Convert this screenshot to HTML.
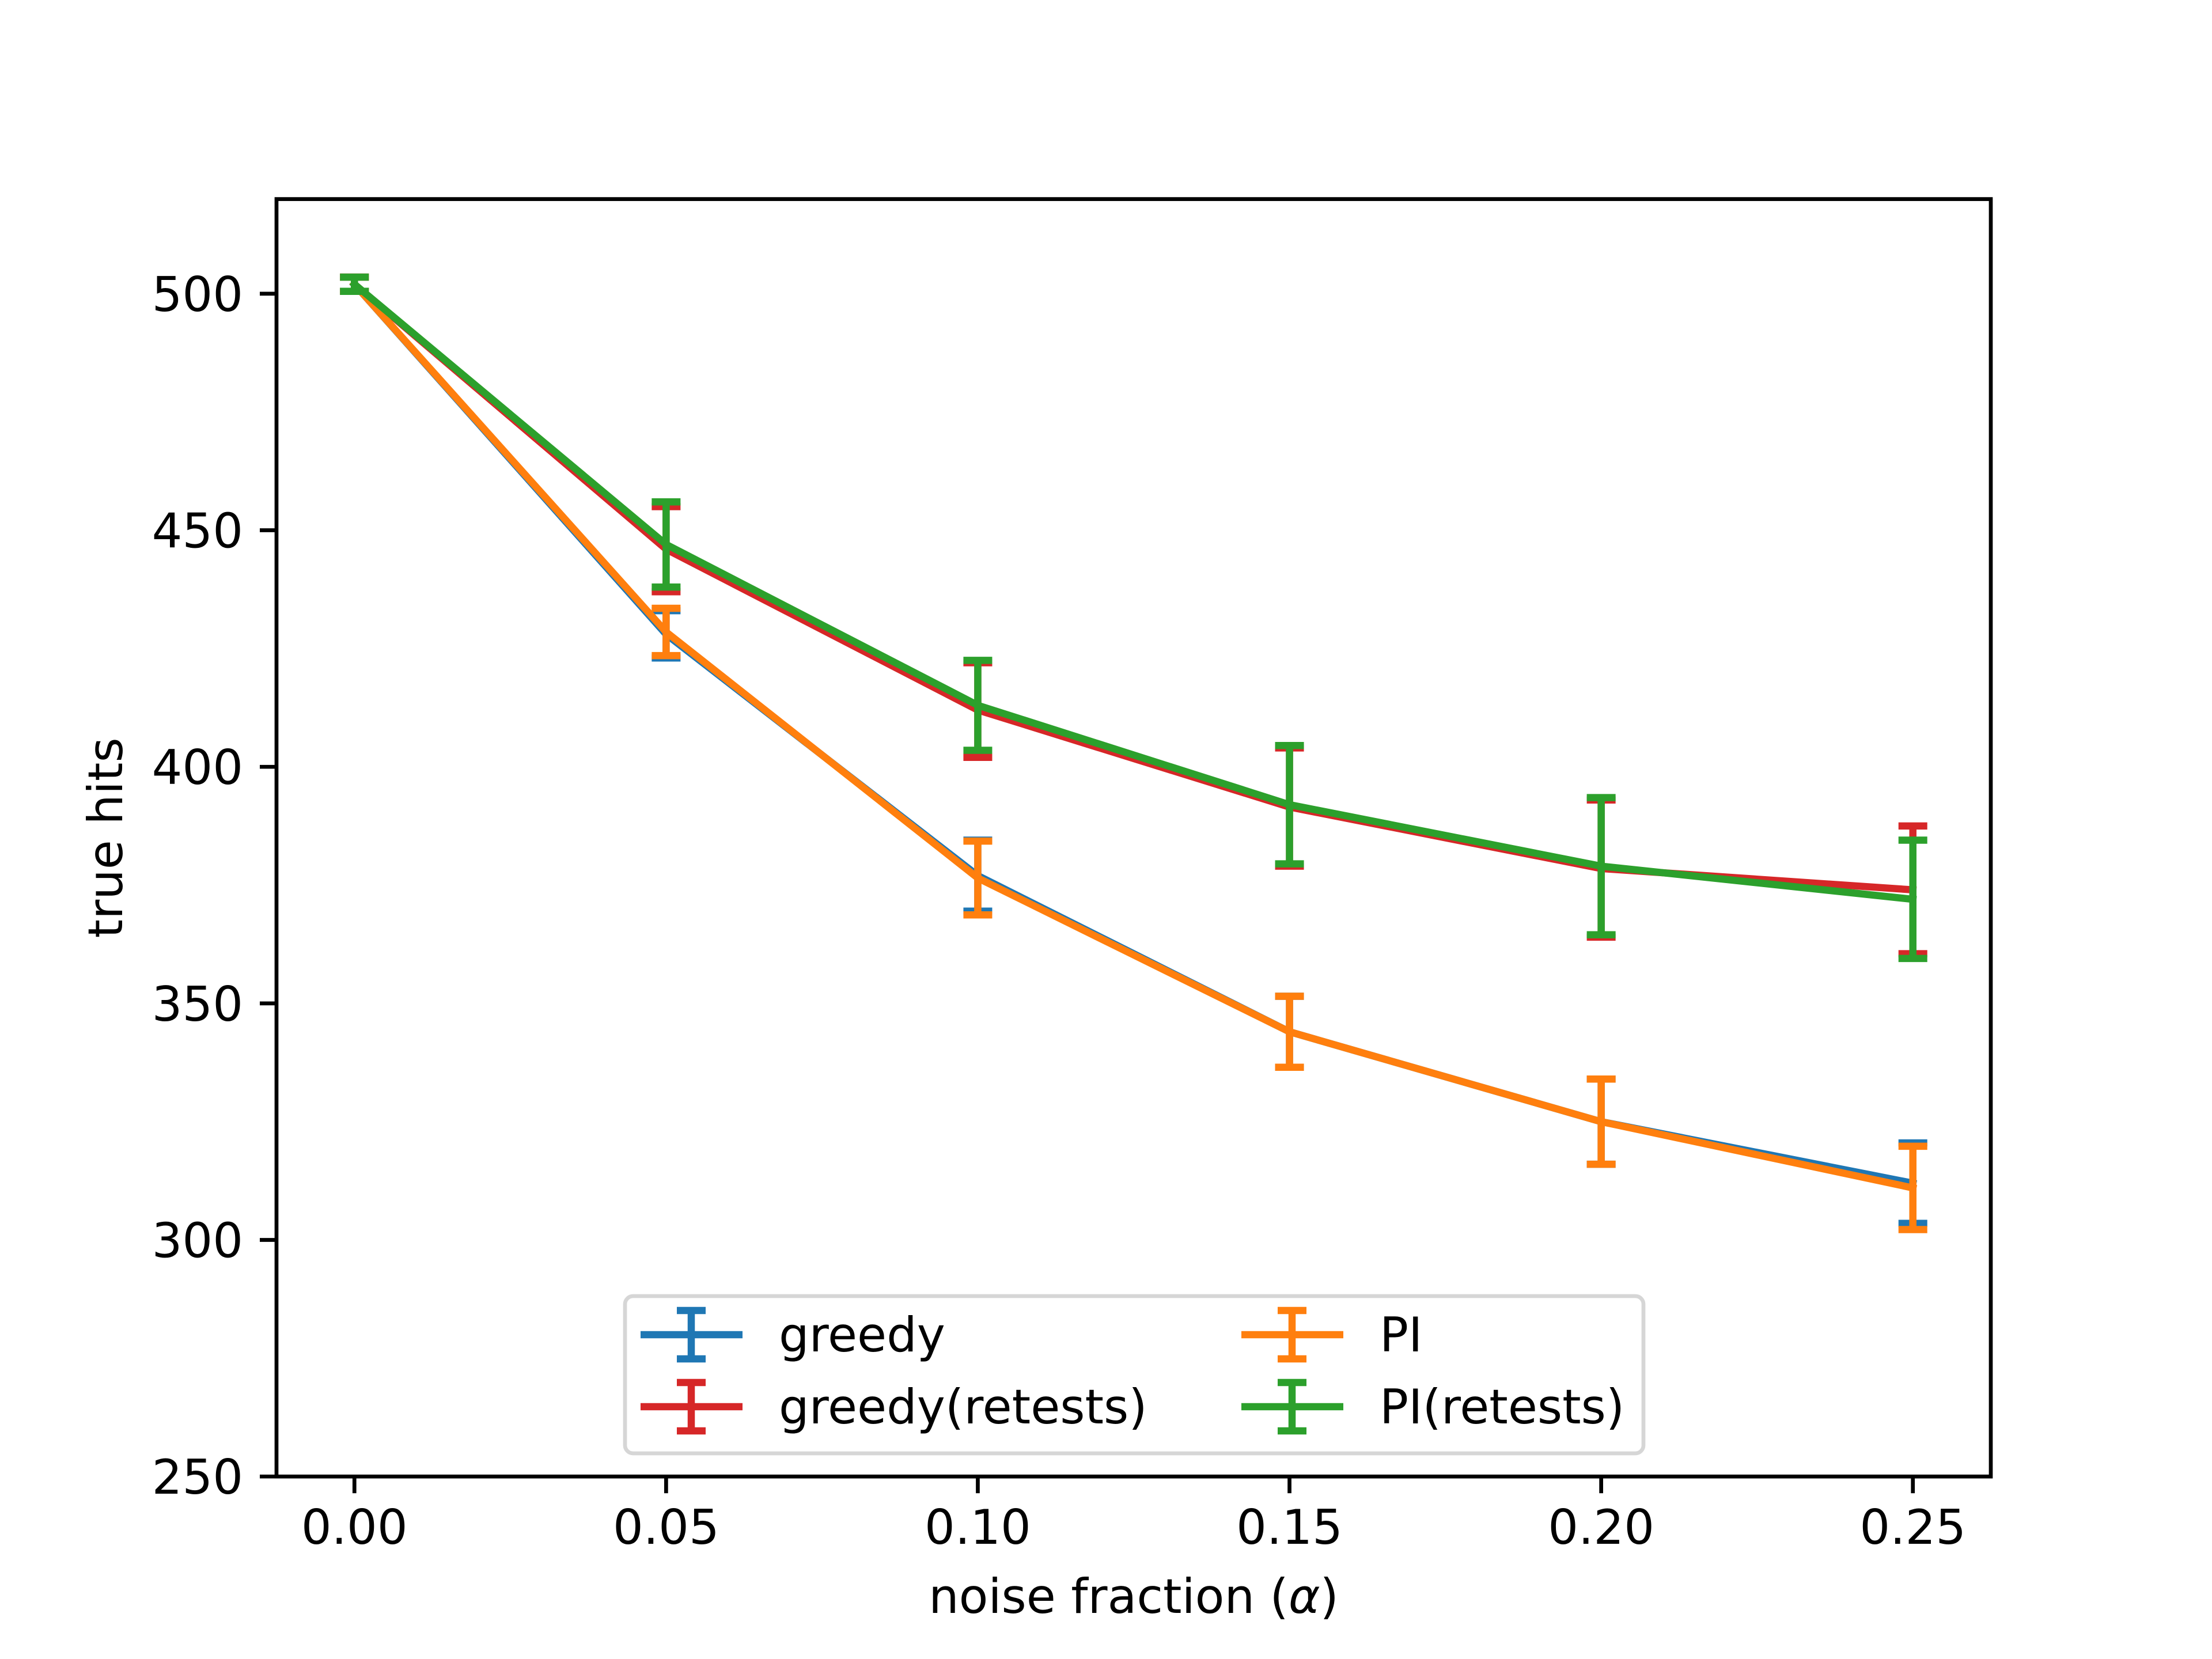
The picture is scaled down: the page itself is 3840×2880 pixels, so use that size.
<!DOCTYPE html>
<html><head><meta charset="utf-8"><style>
html,body{margin:0;padding:0;background:#fff}
svg{display:block}
text{font-family:"DejaVu Sans","Liberation Sans",sans-serif;fill:#000}
</style></head><body>
<svg id="chart" width="3840" height="2880" viewBox="0 0 3840 2880" xmlns="http://www.w3.org/2000/svg">
<rect width="3840" height="2880" fill="#fff"/>
<g id="plot"></g>
</svg>
<script>
const xValues=[0,0.05,0.10,0.15,0.20,0.25];
const greedy=[502,428,377,344,325,312];
const greedyErr=[1.5,5,7.5,7.5,9,8.5];
const greedyRetests=[502,446,412,391.5,378.5,374];
const greedyRetestsErr=[1.5,9,10,12.5,14.5,13.5];
const piVals=[502,428.5,376.5,344,325,311];
const piErr=[1.5,5,7.8,7.5,9,8.8];
const piRetests=[502,447,413,392,379,372];
const piRetestsErr=[1.5,9,9.5,12.5,14.5,12.5];
const xTicks=[0,0.05,0.10,0.15,0.20,0.25];
const xTickLabels=["0.00","0.05","0.10","0.15","0.20","0.25"];
const yTicks=[250,300,350,400,450,500];
const yTickLabels=["250","300","350","400","450","500"];

const L=480,R=3456,T=345.6,B=2563.2;
const xMin=-0.0125,xMax=0.2625,yMin=250,yMax=520;
const sx=v=>L+(v-xMin)/(xMax-xMin)*(R-L);
const sy=v=>B-(v-yMin)/(yMax-yMin)*(B-T);
const NS="http://www.w3.org/2000/svg";
const g=document.getElementById('plot');
function mk(tag,attrs,parent){const e=document.createElementNS(NS,tag);for(const k in attrs)e.setAttribute(k,attrs[k]);(parent||g).appendChild(e);return e;}
const LW=12.5, CAP=25;
function series(vals,errs,color,name){
  const grp=mk('g',{});
  
  
  const pts=vals.map((v,i)=>sx(xValues[i])+','+sy(v)).join(' ');
  const line=mk('polyline',{points:pts,fill:'none',stroke:color,'stroke-width':LW,'stroke-linejoin':'round','stroke-linecap':'square'},grp);
  
  
  vals.forEach((v,i)=>{
    const x=sx(xValues[i]),y1=sy(v-errs[i]),y2=sy(v+errs[i]);
    const eb=mk('path',{d:`M${x},${y1}V${y2}M${x-CAP},${y1}H${x+CAP}M${x-CAP},${y2}H${x+CAP}`,stroke:color,'stroke-width':LW,fill:'none'},grp);
    
    
  });
}
series(greedy,greedyErr,'#1f77b4','greedy');
series(greedyRetests,greedyRetestsErr,'#d62728','greedy-retests');
series(piVals,piErr,'#ff7f0e','pi');
series(piRetests,piRetestsErr,'#2ca02c','pi-retests');

const frame=mk('rect',{x:L,y:T,width:R-L,height:B-T,fill:'none',stroke:'#000','stroke-width':6.7});


xTicks.forEach((t,i)=>{
  const x=sx(t);
  const tk=mk('line',{x1:x,x2:x,y1:B,y2:B+29,stroke:'#000','stroke-width':6.7});
  
  
  const tx=mk('text',{x:x,y:B+117,'font-size':83,'text-anchor':'middle'});
  tx.textContent=xTickLabels[i];
  
  
});
yTicks.forEach((t,i)=>{
  const y=sy(t);
  const tk=mk('line',{x1:L-29,x2:L,y1:y,y2:y,stroke:'#000','stroke-width':6.7});
  
  
  const tx=mk('text',{x:L-58,y:y+30,'font-size':83,'text-anchor':'end'});
  tx.textContent=yTickLabels[i];
  
  
});
const xl=mk('text',{x:(L+R)/2,y:2800,'font-size':83,'text-anchor':'middle'});
xl.innerHTML='noise fraction (<tspan font-style="italic">α</tspan>)';


const yl=mk('text',{x:0,y:0,'font-size':83,'text-anchor':'middle',transform:`translate(212,${(T+B)/2}) rotate(-90)`});
yl.textContent='true hits';



const lg=mk('g',{});


mk('rect',{x:1085,y:2250,width:1768,height:273,rx:14,fill:'#fff','fill-opacity':0.8,stroke:'#d6d6d6','stroke-width':6.7},lg);
const entries=[['greedy','#1f77b4',1112,2317],['greedy(retests)','#d62728',1112,2442],['PI','#ff7f0e',2155,2317],['PI(retests)','#2ca02c',2155,2442]];
entries.forEach(e=>{
  const eg=mk('g',{},lg);
  
  
  const [lab,c,x,y]=e, cx=x+88;
  mk('path',{d:`M${x},${y}H${x+177}`,stroke:c,'stroke-width':LW},eg);
  mk('path',{d:`M${cx},${y-42}V${y+42}M${cx-25},${y-42}H${cx+25}M${cx-25},${y+42}H${cx+25}`,stroke:c,'stroke-width':LW,fill:'none'},eg);
  const t=mk('text',{x:x+240,y:y+29,'font-size':83},eg);
  t.textContent=lab;
});
</script>
</body></html>
